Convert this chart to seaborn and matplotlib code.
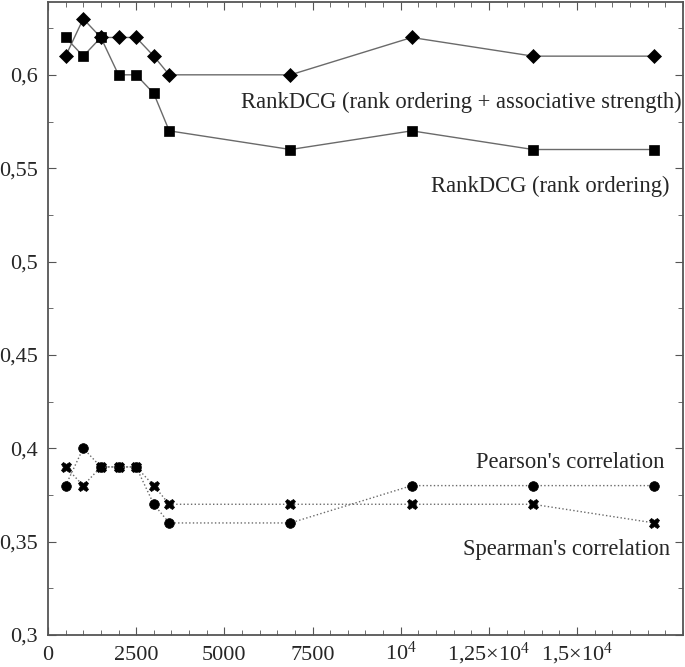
import pandas as pd
import matplotlib.pyplot as plt
import matplotlib.ticker as mticker
import seaborn as sns
import numpy as np

# valores
tamanhos = [500, 1000, 1500, 2000, 2500, 3000, 3437.5, 6875, 10312.5, 13750, 17187.5]
rank_assoc = [0.61, 0.63, 0.62, 0.62, 0.62, 0.61, 0.60, 0.60, 0.62, 0.61, 0.61]
rank_ordem = [0.62, 0.61, 0.62, 0.60, 0.60, 0.59, 0.57, 0.56, 0.57, 0.56, 0.56]
pearson = [0.38, 0.40, 0.39, 0.39, 0.39, 0.37, 0.36, 0.36, 0.38, 0.38, 0.38]
spearman = [0.39, 0.38, 0.39, 0.39, 0.39, 0.38, 0.37, 0.37, 0.37, 0.37, 0.36]

rotulos_x = ["0", "2500", "5000", "7500", r"$\mathregular{10^4}$",
             r"1,25×$\mathregular{10^4}$", r"1,5×$\mathregular{10^4}$"]
ticks_x = [0, 2500, 5000, 7500, 10000, 12500, 15000]

series = {
    "assoc": rank_assoc,
    "ordem": rank_ordem,
    "pearson": pearson,
    "spearman": spearman,
}
df = pd.DataFrame({
    "x": tamanhos * len(series),
    "y": sum(series.values(), []),
    "serie": np.repeat(list(series.keys()), len(tamanhos)),
})

sns.set_style("ticks")
plt.rcParams["font.family"] = ["Liberation Serif", "DejaVu Serif"]
plt.rcParams["mathtext.fontset"] = "custom"
plt.rcParams["mathtext.rm"] = "Liberation Serif"

fig = plt.figure(figsize=(6.85, 6.67), dpi=100)
ax = fig.add_axes([0.070, 0.048, 0.927, 0.949])

estilos = {
    "assoc": dict(marker="D", ls="-", ms=7.5),
    "ordem": dict(marker="s", ls="-", ms=7),
    "pearson": dict(marker="o", ls=":", ms=7),
    "spearman": dict(marker="X", ls=":", ms=7.5),
}
for nome, est in estilos.items():
    sns.lineplot(data=df[df.serie == nome], x="x", y="y", ax=ax,
                 color="#6a6a6a", lw=1, linestyle=est["ls"],
                 marker=est["marker"], markersize=est["ms"],
                 markerfacecolor="black", markeredgecolor="black",
                 markeredgewidth=0.5)

ax.set_xlim(0, 18000)
ax.set_ylim(0.3, 0.639)
ax.set_xticks(ticks_x)
ax.set_xticklabels(rotulos_x)
ax.set_yticks(np.arange(0.3, 0.61, 0.05))
ax.yaxis.set_major_formatter(mticker.FuncFormatter(
    lambda v, p: f"{v:.2f}".rstrip("0").replace(".", ",")))
ax.xaxis.set_minor_locator(mticker.MultipleLocator(500))
ax.yaxis.set_minor_locator(mticker.MultipleLocator(0.025))
ax.tick_params(which="both", direction="in", top=True, right=True,
               color="#555555", labelsize=16)
ax.tick_params(which="major", length=6)
ax.tick_params(which="minor", length=3.5)
ax.tick_params(axis="x", pad=18)
ax.tick_params(axis="y", pad=7)
for lab in ax.get_xticklabels():
    lab.set_verticalalignment("baseline")
for s in ax.spines.values():
    s.set_color("#555555")
    s.set_linewidth(1.3)
ax.set_xlabel("")
ax.set_ylabel("")

fs = 16.3
ax.text(17950, 0.5853, "RankDCG (rank ordering + associative strength)",
        ha="right", va="center", fontsize=fs)
ax.text(17610, 0.540, "RankDCG (rank ordering)", ha="right", va="center", fontsize=fs)
ax.text(17470, 0.3926, "Pearson's correlation", ha="right", va="center", fontsize=fs)
ax.text(17640, 0.346, "Spearman's correlation", ha="right", va="center", fontsize=fs)

fig.savefig("out.png", dpi=100)
